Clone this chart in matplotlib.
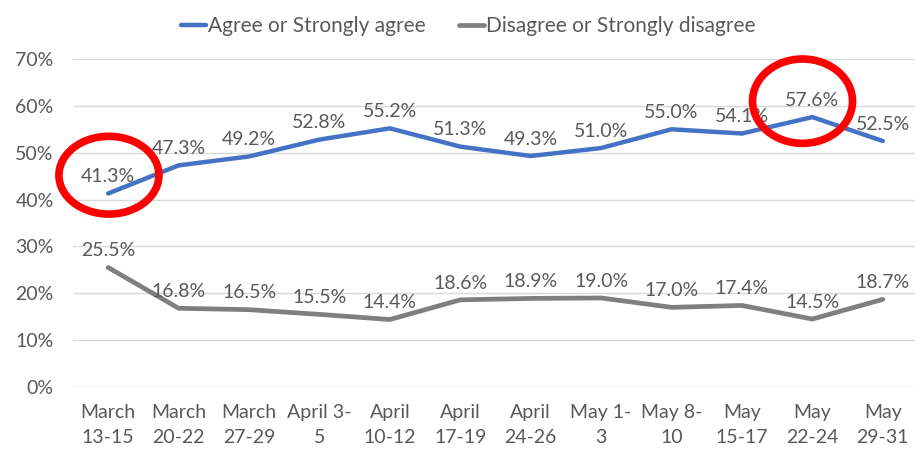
import matplotlib
matplotlib.use("Agg")
import matplotlib.pyplot as plt
from matplotlib.patches import Ellipse

# ── 数据 ────────────────────────────────────────────────────────────────────
periods = ["March\n13-15", "March\n20-22", "March\n27-29", "April 3-\n5", "April\n10-12",
           "April\n17-19", "April\n24-26", "May 1-\n3", "May 8-\n10", "May\n15-17",
           "May\n22-24", "May\n29-31"]
agree = [41.3, 47.3, 49.2, 52.8, 55.2, 51.3, 49.3, 51.0, 55.0, 54.1, 57.6, 52.5]
disagree = [25.5, 16.8, 16.5, 15.5, 14.4, 18.6, 18.9, 19.0, 17.0, 17.4, 14.5, 18.7]
yticks = [0, 10, 20, 30, 40, 50, 60, 70]

BLUE = "#4472C4"
GRAY = "#7F7F7F"
TXT = "#595959"

plt.rcParams["font.family"] = ["Lato", "DejaVu Sans"]

fig = plt.figure(figsize=(9.15, 4.55), dpi=100)
ax = fig.add_axes([73 / 915, 1 - 387 / 455, 845 / 915, 328 / 455])

x = list(range(len(periods)))
ax.plot(x, agree, color=BLUE, lw=3.2, solid_capstyle="round", label="Agree or Strongly agree")
ax.plot(x, disagree, color=GRAY, lw=3.4, solid_capstyle="round", label="Disagree or Strongly disagree")

for xi, v in zip(x, agree):
    ax.annotate(f"{v:.1f}%", (xi, v), xytext=(0, 6), textcoords="offset points",
                ha="center", va="bottom", fontsize=14, color=TXT)
for xi, v in zip(x, disagree):
    ax.annotate(f"{v:.1f}%", (xi, v), xytext=(0, 6), textcoords="offset points",
                ha="center", va="bottom", fontsize=14, color=TXT)

# 红圈标注
ax.add_patch(Ellipse((0.01, 45.2), 1.42, 16.6, fill=False, ec="#FF0000", lw=5.5, clip_on=False, zorder=5))
ax.add_patch(Ellipse((9.86, 61.0), 1.42, 18.0, fill=False, ec="#FF0000", lw=5.5, clip_on=False, zorder=5))

ax.set_xlim(-0.5, len(periods) - 0.5)
ax.set_ylim(0, 70)
ax.set_yticks(yticks)
ax.set_yticklabels([f"{t}%" for t in yticks])
ax.set_xticks(x)
ax.set_xticklabels(periods, linespacing=1.6)
ax.tick_params(length=0, labelsize=14, labelcolor=TXT)
ax.tick_params(axis="y", pad=14)
ax.tick_params(axis="x", pad=12)
ax.grid(axis="y", color="#D9D9D9", lw=1)
ax.set_axisbelow(True)
for s in ax.spines.values():
    s.set_visible(False)

fig.legend(loc="upper center", bbox_to_anchor=(0.512, 1.005), ncol=2, frameon=False,
           fontsize=15, labelcolor=TXT, handlelength=1.2, handletextpad=0.1,
           columnspacing=1.6)

fig.savefig("out.png", dpi=100)
